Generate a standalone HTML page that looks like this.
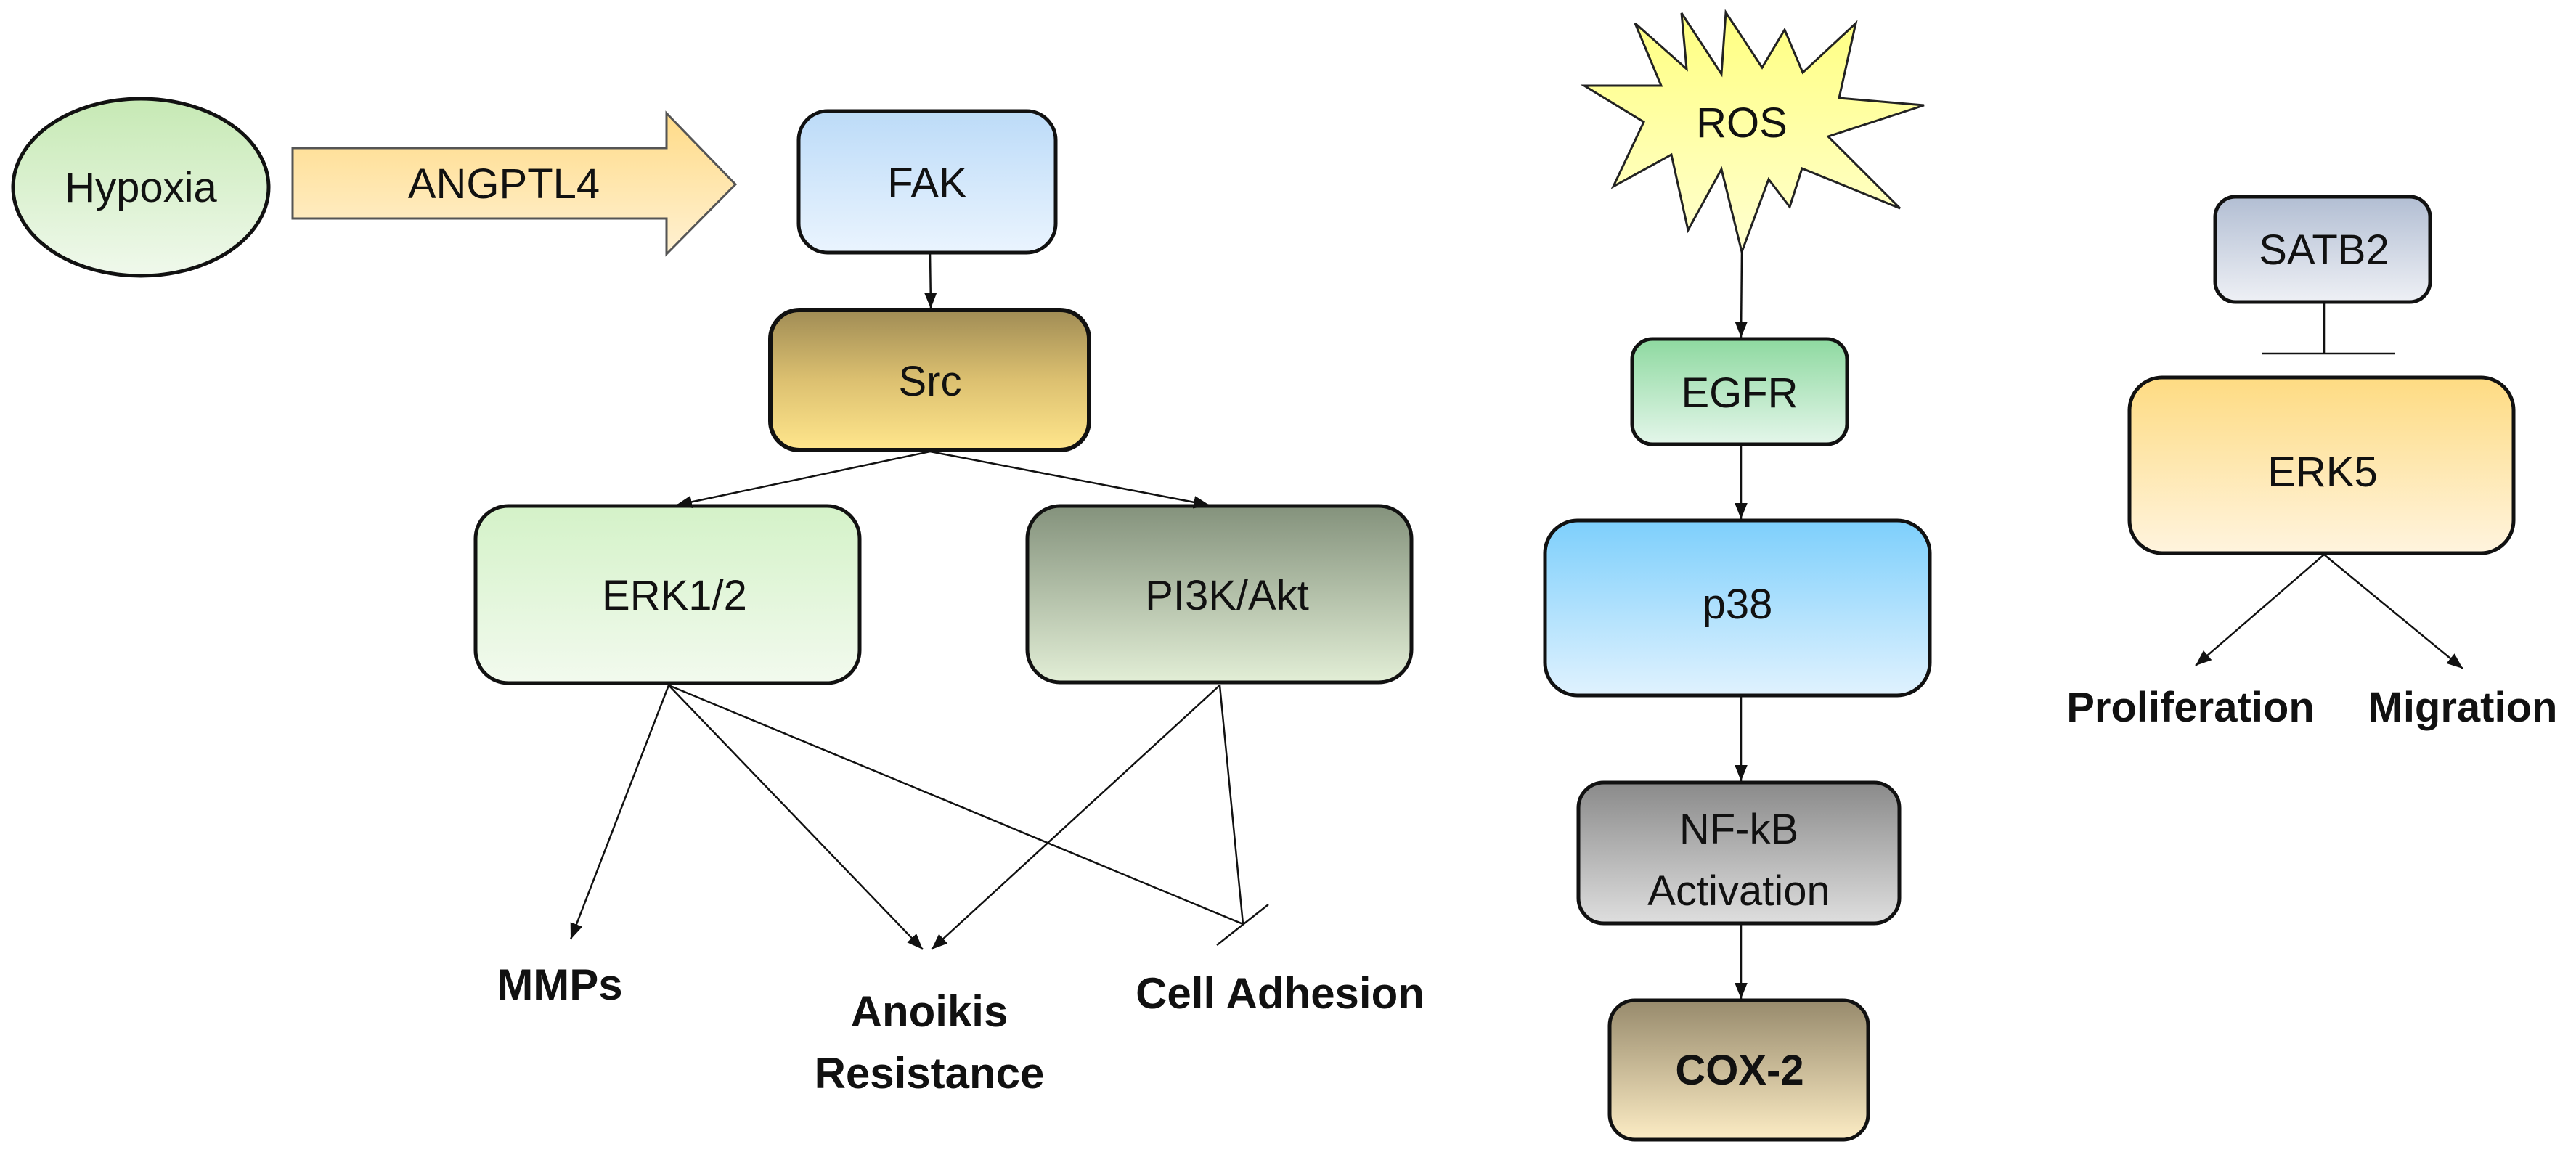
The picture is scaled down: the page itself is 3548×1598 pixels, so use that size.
<!DOCTYPE html>
<html><head><meta charset="utf-8"><style>
html,body{margin:0;padding:0;background:#fff}
svg{display:block}
text{font-family:"Liberation Sans",sans-serif;fill:#111}
</style></head><body>
<svg width="3548" height="1598" viewBox="0 0 3548 1598" xmlns="http://www.w3.org/2000/svg">
<defs>
<linearGradient id="gHyp" x1="0" y1="0" x2="0" y2="1"><stop offset="0" stop-color="#c6e9b4"/><stop offset="1" stop-color="#f0f9ec"/></linearGradient>
<linearGradient id="gArr" x1="0" y1="0" x2="0" y2="1"><stop offset="0" stop-color="#ffdb88"/><stop offset="1" stop-color="#fff1d2"/></linearGradient>
<linearGradient id="gFak" x1="0" y1="0" x2="0" y2="1"><stop offset="0" stop-color="#bcdbf8"/><stop offset="1" stop-color="#eaf4fe"/></linearGradient>
<linearGradient id="gSrc" x1="0" y1="0" x2="0" y2="1"><stop offset="0" stop-color="#a08c55"/><stop offset="0.5" stop-color="#dcc070"/><stop offset="1" stop-color="#ffe68c"/></linearGradient>
<linearGradient id="gErk" x1="0" y1="0" x2="0" y2="1"><stop offset="0" stop-color="#d4f2c8"/><stop offset="1" stop-color="#f2faee"/></linearGradient>
<linearGradient id="gPi" x1="0" y1="0" x2="0" y2="1"><stop offset="0" stop-color="#84927c"/><stop offset="1" stop-color="#e2eed6"/></linearGradient>
<linearGradient id="gRos" x1="0" y1="0" x2="0" y2="1"><stop offset="0" stop-color="#ffff80"/><stop offset="1" stop-color="#ffffd0"/></linearGradient>
<linearGradient id="gEgfr" x1="0" y1="0" x2="0" y2="1"><stop offset="0" stop-color="#8ed9a0"/><stop offset="1" stop-color="#e4f6ea"/></linearGradient>
<linearGradient id="gP38" x1="0" y1="0" x2="0" y2="1"><stop offset="0" stop-color="#7dcffc"/><stop offset="1" stop-color="#e0f2fe"/></linearGradient>
<linearGradient id="gNf" x1="0" y1="0" x2="0" y2="1"><stop offset="0" stop-color="#8a8a8a"/><stop offset="1" stop-color="#dedede"/></linearGradient>
<linearGradient id="gCox" x1="0" y1="0" x2="0" y2="1"><stop offset="0" stop-color="#978a6c"/><stop offset="1" stop-color="#fcecc4"/></linearGradient>
<linearGradient id="gSat" x1="0" y1="0" x2="0" y2="1"><stop offset="0" stop-color="#b2bed3"/><stop offset="1" stop-color="#eef0f5"/></linearGradient>
<linearGradient id="gErk5" x1="0" y1="0" x2="0" y2="1"><stop offset="0" stop-color="#fedb82"/><stop offset="1" stop-color="#fff4de"/></linearGradient>
<marker id="ah" viewBox="0 0 10 10" refX="10" refY="5" markerWidth="7" markerHeight="7" markerUnits="userSpaceOnUse" orient="auto"><path d="M0,0 L10,5 L0,10 z" fill="#111"/></marker>
<marker id="ahb" viewBox="0 0 10 10" refX="10" refY="5" markerWidth="22" markerHeight="22" markerUnits="userSpaceOnUse" orient="auto"><path d="M0,1 L10,5 L0,9 z" fill="#111"/></marker>
</defs>

<!-- Hypoxia -->
<ellipse cx="194" cy="258" rx="176" ry="122" fill="url(#gHyp)" stroke="#111" stroke-width="5"/>
<text x="194" y="278" font-size="58" text-anchor="middle">Hypoxia</text>

<!-- ANGPTL4 block arrow -->
<polygon points="403,204 918,204 918,156 1013,254 918,350 918,301 403,301" fill="url(#gArr)" stroke="#555" stroke-width="3"/>
<text x="694" y="273" font-size="58" text-anchor="middle">ANGPTL4</text>

<!-- FAK -->
<rect x="1100" y="153" width="354" height="195" rx="40" fill="url(#gFak)" stroke="#111" stroke-width="5"/>
<text x="1277" y="272" font-size="58" text-anchor="middle">FAK</text>

<!-- Src -->
<rect x="1061" y="427" width="439" height="193" rx="40" fill="url(#gSrc)" stroke="#111" stroke-width="6"/>
<text x="1281" y="545" font-size="58" text-anchor="middle">Src</text>

<!-- ERK1/2 -->
<rect x="655" y="697" width="529" height="244" rx="45" fill="url(#gErk)" stroke="#111" stroke-width="5"/>
<text x="929" y="840" font-size="58" text-anchor="middle">ERK1/2</text>

<!-- PI3K/Akt -->
<rect x="1415" y="697" width="529" height="243" rx="45" fill="url(#gPi)" stroke="#111" stroke-width="5"/>
<text x="1690" y="840" font-size="58" text-anchor="middle">PI3K/Akt</text>

<!-- connectors left -->
<g stroke="#111" stroke-width="2.5" fill="none">
<line x1="1281" y1="348" x2="1282" y2="425" marker-end="url(#ahb)"/>
<line x1="1281" y1="622" x2="931" y2="696" marker-end="url(#ahb)"/>
<line x1="1281" y1="622" x2="1666" y2="696" marker-end="url(#ahb)"/>
<line x1="921" y1="944" x2="786" y2="1294" marker-end="url(#ahb)"/>
<line x1="921" y1="944" x2="1271" y2="1308" marker-end="url(#ahb)"/>
<line x1="1680" y1="944" x2="1283" y2="1308" marker-end="url(#ahb)"/>
<line x1="921" y1="944" x2="1712" y2="1273"/>
<line x1="1680" y1="944" x2="1712" y2="1273"/>
<line x1="1747" y1="1246" x2="1676" y2="1302"/>
</g>

<text x="771" y="1377" font-size="60" font-weight="bold" text-anchor="middle">MMPs</text>
<text x="1280" y="1414" font-size="60" font-weight="bold" text-anchor="middle">Anoikis</text>
<text x="1280" y="1499" font-size="60" font-weight="bold" text-anchor="middle">Resistance</text>
<text x="1763" y="1389" font-size="60" font-weight="bold" text-anchor="middle">Cell Adhesion</text>

<!-- ROS star -->
<polygon points="2182,118 2288,118 2252,32 2323,95 2316,18 2371,102 2377,17 2427,93 2458,41 2483,100 2556,32 2533,135 2650,145 2518,188 2617,287 2482,232 2465,285 2436,247 2399,347 2371,233 2325,317 2302,213 2222,257 2264,168" fill="url(#gRos)" stroke="#222" stroke-width="3"/>
<text x="2399" y="189" font-size="58" text-anchor="middle">ROS</text>

<!-- EGFR -->
<rect x="2248" y="467" width="296" height="145" rx="28" fill="url(#gEgfr)" stroke="#111" stroke-width="5"/>
<text x="2396" y="561" font-size="58" text-anchor="middle">EGFR</text>

<!-- p38 -->
<rect x="2128" y="717" width="530" height="241" rx="45" fill="url(#gP38)" stroke="#111" stroke-width="5"/>
<text x="2393" y="852" font-size="58" text-anchor="middle">p38</text>

<!-- NF-kB -->
<rect x="2174" y="1078" width="442" height="194" rx="35" fill="url(#gNf)" stroke="#111" stroke-width="5"/>
<text x="2395" y="1162" font-size="58" text-anchor="middle">NF-kB</text>
<text x="2395" y="1247" font-size="58" text-anchor="middle">Activation</text>

<!-- COX-2 -->
<rect x="2217" y="1378" width="356" height="192" rx="35" fill="url(#gCox)" stroke="#111" stroke-width="5"/>
<text x="2396" y="1494" font-size="58" font-weight="bold" text-anchor="middle">COX-2</text>

<g stroke="#111" stroke-width="2.5" fill="none">
<line x1="2399" y1="345" x2="2398" y2="465" marker-end="url(#ahb)"/>
<line x1="2398" y1="612" x2="2398" y2="715" marker-end="url(#ahb)"/>
<line x1="2398" y1="958" x2="2398" y2="1076" marker-end="url(#ahb)"/>
<line x1="2398" y1="1272" x2="2398" y2="1376" marker-end="url(#ahb)"/>
</g>

<!-- SATB2 -->
<rect x="3051" y="271" width="296" height="145" rx="28" fill="url(#gSat)" stroke="#111" stroke-width="5"/>
<text x="3201" y="364" font-size="58" text-anchor="middle">SATB2</text>
<g stroke="#111" stroke-width="2.5">
<line x1="3201" y1="416" x2="3201" y2="487"/>
<line x1="3115" y1="487" x2="3299" y2="487"/>
</g>

<!-- ERK5 -->
<rect x="2933" y="520" width="529" height="242" rx="45" fill="url(#gErk5)" stroke="#111" stroke-width="5"/>
<text x="3199" y="670" font-size="58" text-anchor="middle">ERK5</text>

<g stroke="#111" stroke-width="2.5" fill="none">
<line x1="3201" y1="764" x2="3024" y2="917" marker-end="url(#ahb)"/>
<line x1="3201" y1="764" x2="3392" y2="921" marker-end="url(#ahb)"/>
</g>
<text x="3017" y="994" font-size="58" font-weight="bold" text-anchor="middle">Proliferation</text>
<text x="3392" y="994" font-size="58" font-weight="bold" text-anchor="middle">Migration</text>
</svg>
</body></html>
